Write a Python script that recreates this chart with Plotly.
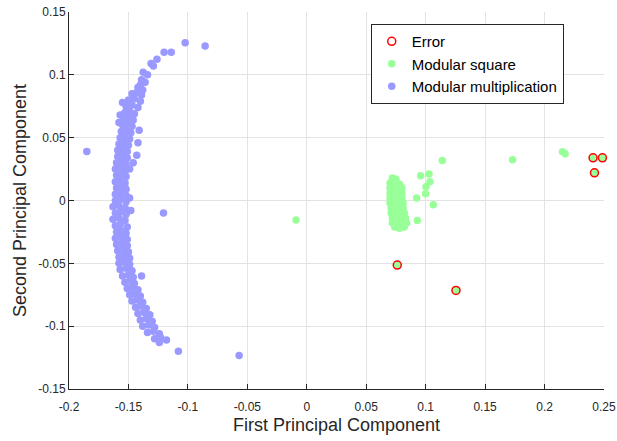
import plotly.graph_objects as go

# ---- data ----
blue_x = [
    -0.1023, -0.0855, -0.1200, -0.1140, -0.1260, -0.1310, -0.1290, -0.1376, -0.1340, -0.1390, -0.1360, -0.1420, -0.1380, -0.1400,
    -0.147, -0.143, -0.139,
    -0.150, -0.145, -0.140, -0.155,
    -0.152, -0.147, -0.142,
    -0.153, -0.149, -0.145, -0.157,
    -0.154, -0.150, -0.146,
    -0.155, -0.151, -0.147, -0.158,
    -0.141,
    -0.156, -0.152, -0.148,
    -0.157, -0.153, -0.149,
    -0.142,
    -0.158, -0.154, -0.150,
    -0.159, -0.155, -0.151,
    -0.143,
    -0.159, -0.155, -0.151,
    -0.160, -0.156, -0.152, -0.146,
    -0.161, -0.157, -0.153, -0.149,
    -0.160, -0.156, -0.152,
    -0.161, -0.157, -0.153,
    -0.160, -0.156, -0.152,
    -0.161, -0.157, -0.152,
    -0.161, -0.157, -0.152, -0.149,
    -0.163, -0.158, -0.153,
    -0.161, -0.157, -0.152, -0.148,
    -0.163, -0.158, -0.153,
    -0.161, -0.157, -0.151,
    -0.160, -0.156, -0.152,
    -0.161, -0.156, -0.151,
    -0.160, -0.156, -0.151,
    -0.159, -0.155, -0.150,
    -0.158, -0.154, -0.149,
    -0.158, -0.154, -0.149,
    -0.157, -0.152, -0.147,
    -0.155, -0.150, -0.146, -0.139,
    -0.153, -0.149, -0.145,
    -0.151, -0.147, -0.142,
    -0.149, -0.145, -0.140,
    -0.147, -0.143, -0.138,
    -0.144, -0.140, -0.135,
    -0.142, -0.137, -0.132,
    -0.140, -0.135, -0.130,
    -0.138, -0.133, -0.128,
    -0.134, -0.129, -0.124,
    -0.128, -0.123, -0.118,
    -0.124,
    -0.108, -0.0569, -0.1205, -0.185,
]
blue_y = [
    0.1256, 0.1230, 0.1180, 0.1180, 0.1125, 0.1090, 0.1070, 0.1020, 0.1000, 0.0960, 0.0940, 0.0900, 0.0880, 0.0920,
    0.085, 0.086, 0.084,
    0.080, 0.081, 0.079, 0.078,
    0.075, 0.076, 0.074,
    0.070, 0.071, 0.069, 0.068,
    0.065, 0.066, 0.064,
    0.060, 0.061, 0.059, 0.062,
    0.056,
    0.055, 0.056, 0.054,
    0.050, 0.051, 0.049,
    0.046,
    0.045, 0.046, 0.044,
    0.040, 0.041, 0.039,
    0.036,
    0.035, 0.036, 0.034,
    0.030, 0.031, 0.029, 0.030,
    0.025, 0.026, 0.024, 0.025,
    0.020, 0.021, 0.019,
    0.015, 0.016, 0.014,
    0.010, 0.011, 0.009,
    0.005, 0.006, 0.004,
    0.000, 0.001, -0.001, 0.002,
    -0.005, -0.004, -0.006,
    -0.010, -0.009, -0.011, -0.008,
    -0.015, -0.014, -0.016,
    -0.020, -0.019, -0.021,
    -0.025, -0.024, -0.026,
    -0.030, -0.029, -0.031,
    -0.035, -0.034, -0.036,
    -0.040, -0.039, -0.041,
    -0.045, -0.044, -0.046,
    -0.050, -0.049, -0.051,
    -0.055, -0.054, -0.056,
    -0.060, -0.059, -0.061, -0.060,
    -0.065, -0.064, -0.066,
    -0.070, -0.069, -0.071,
    -0.075, -0.074, -0.076,
    -0.080, -0.079, -0.081,
    -0.085, -0.084, -0.086,
    -0.090, -0.089, -0.091,
    -0.095, -0.094, -0.096,
    -0.100, -0.099, -0.101,
    -0.105, -0.104, -0.106,
    -0.110, -0.109, -0.111,
    -0.113,
    -0.120, -0.1233, -0.010, 0.039,
]

green_x = [
    0.072, 0.075,
    0.070, 0.074, 0.078,
    0.070, 0.073, 0.077, 0.080,
    0.070, 0.074, 0.078, 0.080,
    0.070, 0.074, 0.077, 0.080,
    0.070, 0.073, 0.077, 0.081,
    0.071, 0.074, 0.078, 0.081,
    0.071, 0.075, 0.079, 0.082,
    0.072, 0.075, 0.079, 0.083,
    0.072, 0.076, 0.080, 0.084,
    0.074, 0.078, 0.082,
    0.114, 0.0958, 0.1028, 0.1036, 0.1003, 0.1000, 0.0924, 0.1064, 0.0930,
    -0.009, 0.1731, 0.2151, 0.2173,
    0.0761, 0.1255, 0.2408, 0.2487, 0.2420,
]
green_y = [
    0.018, 0.017,
    0.014, 0.015, 0.013,
    0.010, 0.011, 0.009, 0.010,
    0.006, 0.007, 0.005, 0.006,
    0.002, 0.003, 0.001, 0.002,
    -0.002, -0.001, -0.003, -0.002,
    -0.006, -0.005, -0.007, -0.006,
    -0.010, -0.009, -0.011, -0.010,
    -0.014, -0.013, -0.015, -0.014,
    -0.018, -0.017, -0.019, -0.018,
    -0.021, -0.022, -0.021,
    0.0318, 0.0197, 0.0210, 0.0150, 0.0110, 0.0053, 0.0020, -0.0034, -0.0160,
    -0.0156, 0.0324, 0.0388, 0.0372,
    -0.0514, -0.0716, 0.0340, 0.0340, 0.0220,
]

err_x = [0.0761, 0.1255, 0.2408, 0.2487, 0.2420]
err_y = [-0.0514, -0.0716, 0.0340, 0.0340, 0.0220]

x_ticks = [-0.2, -0.15, -0.1, -0.05, 0, 0.05, 0.1, 0.15, 0.2, 0.25]
x_tick_text = ["-0.2", "-0.15", "-0.1", "-0.05", "0", "0.05", "0.1", "0.15", "0.2", "0.25"]
y_ticks = [-0.15, -0.1, -0.05, 0, 0.05, 0.1, 0.15]
y_tick_text = ["-0.15", "-0.1", "-0.05", "0", "0.05", "0.1", "0.15"]

assert len(blue_x) == len(blue_y)
assert len(green_x) == len(green_y)

FONT = "Liberation Sans, Arial, sans-serif"
AX = "#262626"

fig = go.Figure()
fig.add_trace(go.Scatter(
    x=green_x, y=green_y, mode="markers", name="Modular square",
    marker=dict(color="#99ff99", size=7.5, line=dict(width=0)),
    legendrank=2, cliponaxis=False,
))
fig.add_trace(go.Scatter(
    x=blue_x, y=blue_y, mode="markers", name="Modular multiplication",
    marker=dict(color="#9999ff", size=7.5, line=dict(width=0)),
    legendrank=3, cliponaxis=False,
))
fig.add_trace(go.Scatter(
    x=err_x, y=err_y, mode="markers", name="Error",
    marker=dict(symbol="circle-open", color="#ff0000", size=8, line=dict(width=1.5, color="#ff0000")),
    legendrank=1, cliponaxis=False,
))

fig.update_layout(
    width=617, height=441,
    margin=dict(l=69, r=13, t=12, b=52, pad=0),
    paper_bgcolor="white", plot_bgcolor="white",
    font=dict(family=FONT, size=12, color=AX),
    legend=dict(
        x=0.564, y=0.968, xanchor="left", yanchor="top",
        bgcolor="white", bordercolor=AX, borderwidth=1,
        font=dict(size=15, color="black"),
        tracegroupgap=0,
    ),
    showlegend=True,
)
fig.update_xaxes(
    range=[-0.2, 0.25], tickvals=x_ticks, ticktext=x_tick_text,
    showgrid=True, gridcolor="#e3e3e3", gridwidth=1, zeroline=False,
    showline=True, linecolor=AX, linewidth=1, mirror=False,
    ticks="inside", ticklen=5, tickcolor=AX,
    tickfont=dict(size=12, color=AX), ticklabelstandoff=7,
    automargin=False,
    title=dict(text="First Principal Component", font=dict(size=18, color=AX), standoff=4),
)
fig.update_yaxes(
    range=[-0.15, 0.15], tickvals=y_ticks, ticktext=y_tick_text,
    showgrid=True, gridcolor="#e3e3e3", gridwidth=1, zeroline=False,
    showline=True, linecolor=AX, linewidth=1, mirror=False,
    ticks="inside", ticklen=5, tickcolor=AX,
    tickfont=dict(size=12, color=AX),
    automargin=False,
    title=dict(text="Second Principal Component", font=dict(size=18, color=AX), standoff=6),
)

fig.write_html("out.html")
